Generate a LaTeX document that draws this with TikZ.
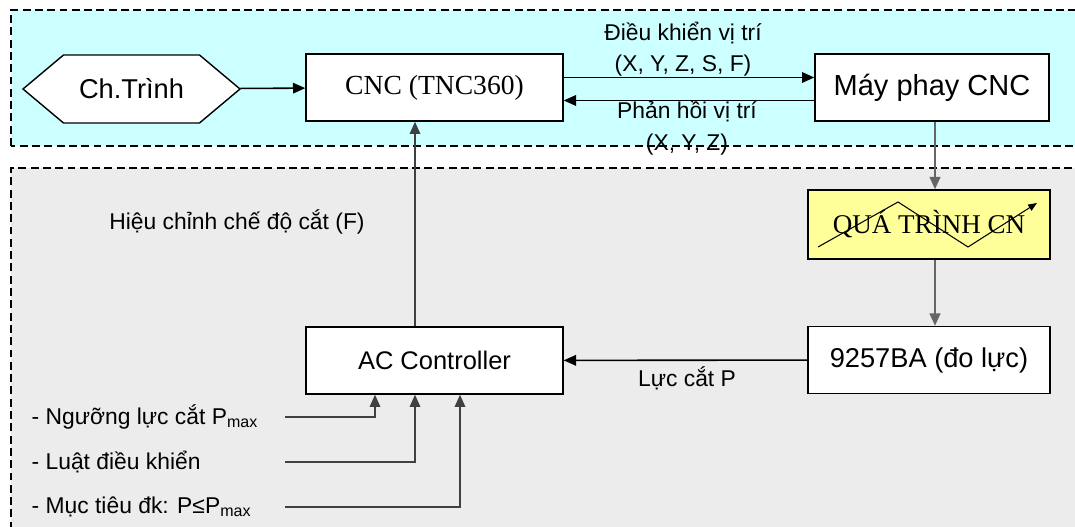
\documentclass[tikz,border=0pt]{standalone}
\usepackage{fontspec}
\setmainfont{Liberation Sans}
\newfontfamily\serifbox{Liberation Serif}
\usetikzlibrary{arrows.meta,shapes.symbols}
\definecolor{cncbg}{RGB}{204,255,255}
\definecolor{acbg}{RGB}{236,236,236}
\definecolor{procbg}{RGB}{255,255,153}

\begin{document}
\begin{tikzpicture}[thick,
    zone/.style={dash pattern=on 4.5pt off 2.5pt,line width=0.7pt},
    box/.style={draw,fill=white,line width=0.8pt,inner sep=0pt,minimum width=5.14cm,minimum height=1.34cm,font=\fontsize{15.5}{18}\selectfont},
    lbl/.style={inner sep=0pt,align=center,font=\fontsize{13}{18}\selectfont},
    arr/.style={line width=0.9pt,-{Triangle[length=7pt,width=6pt]}},
    garr/.style={arr,line width=1.3pt,black!60}]
    \useasboundingbox (0,0) rectangle (21.5,10.54);
    % vung CNC va vung AC
    \draw[zone,fill=cncbg] (0.22,7.62) rectangle (21.9,10.34);
    \draw[zone,fill=acbg] (0.22,-0.3) rectangle (21.9,7.18);

    \node[box,signal,signal to=west and east,signal pointer angle=80,minimum width=4.34cm,minimum height=1.36cm] (prog) at (2.63,8.76) {Ch.Trình};
    \node[box,font=\serifbox\fontsize{15.7}{18}\selectfont] (cnc) at (8.69,8.79) {CNC (TNC360)};
    \node[box,minimum width=4.68cm,font=\fontsize{16.5}{18}\selectfont] (mill) at (18.64,8.79) {Máy phay CNC};
    \node[box,fill=procbg,minimum width=4.84cm,minimum height=1.38cm,font=\serifbox\fontsize{15.4}{18}\selectfont] (proc) at (18.58,6.05) {QUÁ TRÌNH CN};
    \node[box,minimum width=4.84cm] (sensor) at (18.58,3.34) {9257BA (đo lực)};
    \node[box,font=\fontsize{14.5}{18}\selectfont] (acc) at (8.69,3.33) {AC Controller};

    \draw[arr] (prog) -- (cnc);
    \draw[arr] ([yshift=0.2cm]cnc.east) -- ([yshift=0.2cm]mill.west);
    \draw[arr] ([yshift=-0.26cm]mill.west) -- ([yshift=-0.26cm]cnc.east);
    \draw[garr] ([xshift=0.06cm]mill.south) -- ([xshift=0.12cm]proc.north);
    \draw[garr] ([xshift=0.12cm]proc.south) -- ([xshift=0.12cm]sensor.north);
    \draw[arr] (sensor) -- (acc);
    \draw[arr,black!75] ([xshift=-0.39cm]acc.north) -- ([xshift=-0.39cm]cnc.south);
    \draw[line width=0.6pt,-{Triangle[length=5pt,width=4pt]}] ([shift={(-2.22,-0.45)}]proc.center)
        -- ++(1.6,0.9) -- ++(1.4,-0.9) -- ++(1.38,0.88);

    \node[lbl] (cmd) at (13.66,9.56) {Điều khiển vị trí\\(X, Y, Z, S, F)};
    \node[lbl] (fb) at (13.74,7.98) {Phản hồi vị trí\\(X, Y, Z)};
    \node[lbl] (adj) at (4.74,6.1) {Hiệu chỉnh chế độ cắt (F)};
    \node[lbl] (force) at (13.74,2.98) {Lực cắt P};

    % dau vao cua bo dieu khien
    \node[lbl,anchor=west] (in1) at (0.62,2.2) {- Ngưỡng lực cắt P\textsubscript{max}};
    \node[lbl,anchor=west] (in2) at (0.62,1.3) {- Luật điều khiển};
    \node[lbl,anchor=west] (in3) at (0.62,0.4) {- Mục tiêu đk: P≤P\textsubscript{max}};
    \coordinate (s1) at (5.7,2.2);
    \coordinate (s2) at (5.7,1.3);
    \coordinate (s3) at (5.7,0.4);
    \draw[arr,black!75] (s1) -| ([xshift=-1.19cm]acc.south);
    \draw[arr,black!75] (s2) -| ([xshift=-0.39cm]acc.south);
    \draw[arr,black!75] (s3) -| ([xshift=0.51cm]acc.south);
\end{tikzpicture}
\end{document}
